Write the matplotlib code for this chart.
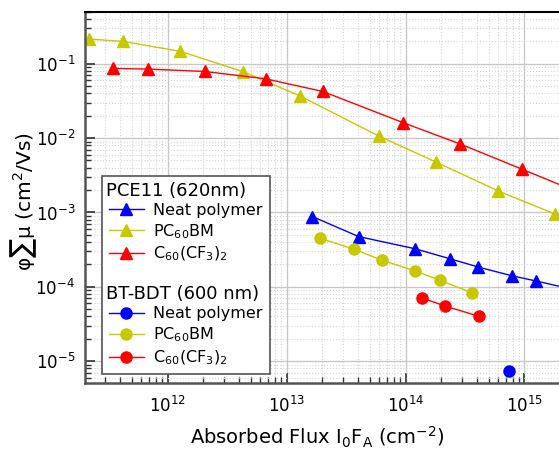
import matplotlib
matplotlib.use("Agg")
import matplotlib.pyplot as plt
from matplotlib.lines import Line2D
from matplotlib.ticker import LogLocator, NullFormatter

plt.rcParams['axes.unicode_minus'] = False

# PCE11 (620 nm), triangles
pce_neat_x = [1.65e13, 4.03e13, 1.21e14, 2.37e14, 4.10e14, 7.92e14, 1.24e15, 2.5e15]
pce_neat_y = [8.8e-4, 4.74e-4, 3.24e-4, 2.38e-4, 1.84e-4, 1.40e-4, 1.20e-4, 9.3e-5]

pce_pcbm_x = [2.17e11, 4.24e11, 1.28e12, 4.27e12, 1.29e13, 5.93e13, 1.81e14, 6.0e14, 1.81e15]
pce_pcbm_y = [0.215, 0.20, 0.147, 0.0787, 0.0371, 0.0107, 4.75e-3, 1.95e-3, 9.5e-4]

pce_cf3_x = [3.49e11, 6.79e11, 2.05e12, 6.67e12, 2.02e13, 9.48e13, 2.86e14, 9.49e14, 3.0e15]
pce_cf3_y = [0.0865, 0.0849, 0.0788, 0.0628, 0.0424, 0.0162, 8.38e-3, 3.83e-3, 1.8e-3]

# BT-BDT (600 nm), circles
bt_neat_x = [7.38e14]
bt_neat_y = [7.4e-6]

bt_pcbm_x = [1.90e13, 3.68e13, 6.33e13, 1.20e14, 1.93e14, 3.63e14]
bt_pcbm_y = [4.51e-4, 3.21e-4, 2.28e-4, 1.64e-4, 1.23e-4, 8.28e-5]

bt_cf3_x = [1.37e14, 2.13e14, 4.13e14]
bt_cf3_y = [7.10e-5, 5.53e-5, 4.02e-5]

headings = ['PCE11 (620nm)', 'BT-BDT (600 nm)']
series_labels = ['Neat polymer', 'PC$_{60}$BM', 'C$_{60}$(CF$_3$)$_2$']

BLUE = '#0000ff'
YELLOW = '#c8c800'
RED = '#ff0000'

fig = plt.figure(figsize=(5.59, 4.55), dpi=100)
ax = fig.add_axes([0.152, 0.158, 0.848, 0.816])

ax.plot(pce_pcbm_x, pce_pcbm_y, '-^', color=YELLOW, lw=1, ms=9)
ax.plot(pce_cf3_x, pce_cf3_y, '-^', color=RED, lw=1, ms=9)
ax.plot(pce_neat_x, pce_neat_y, '-^', color=BLUE, lw=1, ms=9)
ax.plot(bt_pcbm_x, bt_pcbm_y, '-o', color=YELLOW, lw=1, ms=8)
ax.plot(bt_cf3_x, bt_cf3_y, '-o', color=RED, lw=1, ms=8)
ax.plot(bt_neat_x, bt_neat_y, '-o', color=BLUE, lw=1, ms=8)

ax.set_xscale('log')
ax.set_yscale('log')
ax.set_xlim(2.02e11, 1.95e15)
ax.set_ylim(5.06e-6, 0.5)

ax.xaxis.set_major_locator(LogLocator(base=10, numticks=20))
ax.xaxis.set_minor_locator(LogLocator(base=10, subs=range(2, 10), numticks=20))
ax.xaxis.set_minor_formatter(NullFormatter())
ax.yaxis.set_major_locator(LogLocator(base=10, numticks=20))
ax.yaxis.set_minor_locator(LogLocator(base=10, subs=range(2, 10), numticks=20))
ax.yaxis.set_minor_formatter(NullFormatter())

ax.grid(True, which='major', color='#c8c8c8', lw=1, ls='-')
ax.grid(True, which='minor', color='#d4d4d4', lw=0.8, ls=':')
ax.set_axisbelow(True)

ax.tick_params(which='both', direction='in', top=False, right=False, labelsize=12, colors='#333333')
ax.tick_params(which='major', length=7, width=1.2)
ax.tick_params(which='minor', length=4, width=1)
ax.tick_params(axis='x', which='major', pad=9)
ax.tick_params(axis='y', which='major', pad=7)
ax.tick_params(labelcolor='black')

ax.spines['right'].set_visible(False)
ax.spines['top'].set_color('black')
ax.spines['top'].set_linewidth(1.5)
for s in ('left', 'bottom'):
    ax.spines[s].set_color('#555555')
    ax.spines[s].set_linewidth(1.8)

ax.set_xlabel('Absorbed Flux I$_\\mathrm{0}$F$_\\mathrm{A}$ (cm$^{-2}$)', fontsize=14)
ax.xaxis.set_label_coords(0.49, -0.112)
ax.set_ylabel('\u03c6\u2211\u03bc (cm$^{2}$/Vs)', fontsize=14.5)
ax.yaxis.set_label_coords(-0.097, 0.49)

blank = Line2D([], [], linestyle='none', marker=None)
handles = [blank]
handles += [Line2D([], [], color=c, marker='^', ms=9, lw=1) for c in (BLUE, YELLOW, RED)]
handles += [blank, blank]
handles += [Line2D([], [], color=c, marker='o', ms=8, lw=1) for c in (BLUE, YELLOW, RED)]
labels = [' '] + series_labels + [' ', ' '] + series_labels

leg = ax.legend(handles, labels, loc='lower left', bbox_to_anchor=(0.035, 0.024),
                borderaxespad=0, fontsize=11.5, handlelength=2.2, handletextpad=0.6,
                labelspacing=0.27, borderpad=0.45, fancybox=False, framealpha=1,
                edgecolor='#555555')
leg.get_frame().set_linewidth(1.2)

# headings go flush with the handles, on the blank legend rows
fig.canvas.draw()
renderer = fig.canvas.get_renderer()
frame_bb = leg.get_frame().get_window_extent(renderer)
W, H = fig.bbox.width, fig.bbox.height
for name, row in zip(headings, (0, 5)):
    bb = leg.texts[row].get_window_extent(renderer)
    yc = (bb.y0 + bb.y1) / 2
    fig.text((frame_bb.x0 + 4) / W, yc / H, name, fontsize=13,
             ha='left', va='center', zorder=10)

fig.savefig('out.png', dpi=100)
